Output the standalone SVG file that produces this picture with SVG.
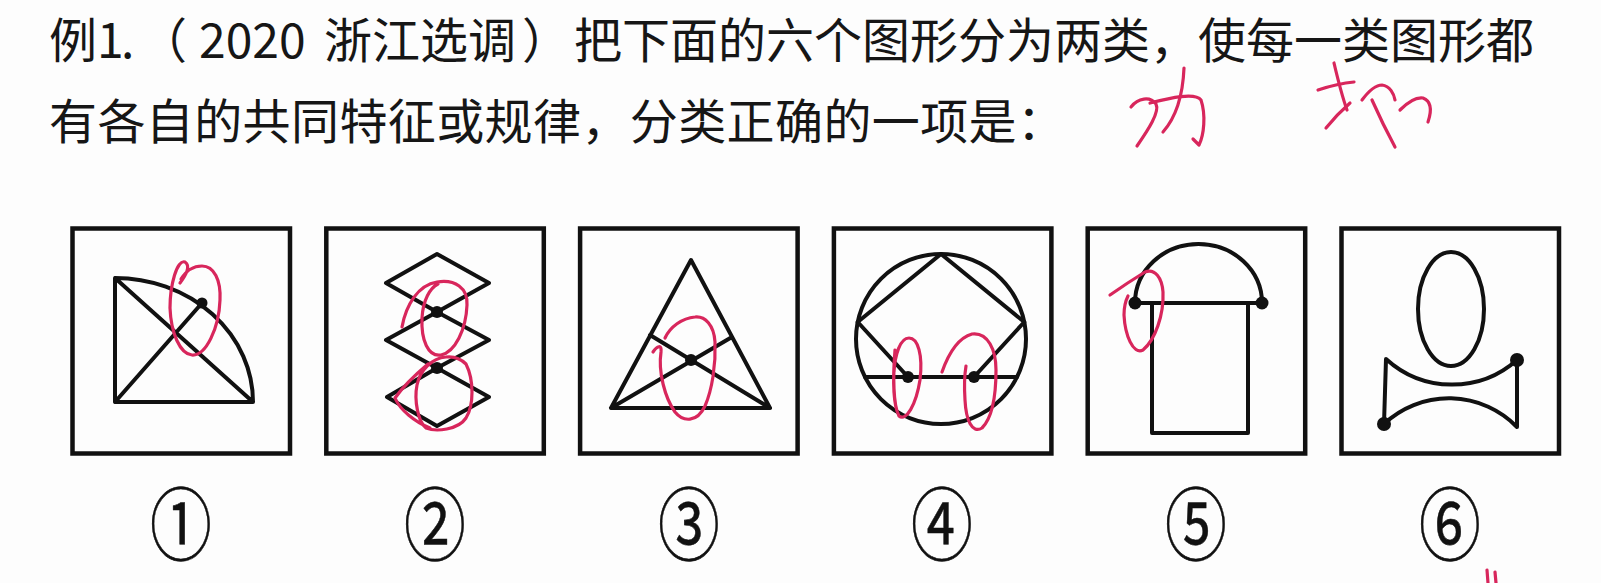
<svg xmlns="http://www.w3.org/2000/svg" width="1601" height="583" viewBox="0 0 1601 583">
<style>
.frame{fill:none;stroke:#111;stroke-width:4.5}
.fig{fill:none;stroke:#111;stroke-width:4;stroke-linejoin:round;stroke-linecap:round}
.dot{fill:#111}
.ink{fill:none;stroke:#d8265c;stroke-width:3.2;stroke-linecap:round;stroke-linejoin:round}
.q{font-family:"Noto Sans CJK SC","Noto Sans",sans-serif;font-size:48px;fill:#161616}
.num{font-family:"DejaVu Serif","Noto Sans CJK SC",serif;font-size:60px;fill:#111;stroke:#111;stroke-width:0.4;text-anchor:middle}
</style>
<rect width="1601" height="583" fill="#fdfdfd"/>
<g id="question">
<text class="q" x="49" y="58">例1</text>
<text class="q" x="121" y="58">.</text>
<text class="q" x="139" y="58">（</text>
<text class="q" x="199" y="58">2020</text>
<text class="q" x="324" y="58">浙江选调</text>
<text class="q" x="522" y="58">）</text>
<text class="q" x="574" y="58">把下面的六个图形分为两类，使每一类图形都</text>
<text class="q" x="49" y="139" letter-spacing="0.4">有各自的共同特征或规律，分类正确的一项是：</text>
</g>
<g id="handwriting">
<path class="ink" d="M1131,107 C1138,98 1150,96 1156,104 C1160,112 1148,130 1137,146"/>
<path class="ink" d="M1150,103 C1170,98 1195,92 1201,100 C1206,115 1204,135 1199,145 L1193,139"/>
<path class="ink" d="M1184,68 C1183,92 1178,115 1163,132"/>
<path class="ink" d="M1318,90 C1330,86 1342,83 1354,82"/>
<path class="ink" d="M1334,63 C1338,80 1342,96 1347,110"/>
<path class="ink" d="M1326,128 C1334,118 1342,110 1350,103"/>
<path class="ink" d="M1362,100 C1368,92 1375,85 1382,85 C1390,86 1394,94 1395,100"/>
<path class="ink" d="M1372,100 C1380,118 1388,134 1395,147"/>
<path class="ink" d="M1400,110 C1408,102 1416,97 1423,98 C1431,101 1432,110 1428,122"/>
</g>
<g id="fig1">
<rect class="frame" x="72.5" y="228.5" width="217.5" height="225"/>
<path class="fig" d="M115,278 L115,402 L253,402 A138,124 0 0 0 115,278 Z M115,278 L253,402 M115,402 L202,303"/>
<circle class="dot" cx="202" cy="303" r="5.5"/>
<path class="ink" d="M180,283 C186,275 191,266 185,262 C177,259 170,285 170,308 C171,333 180,354 192,355 C206,356 219,328 220,300 C221,280 214,266 202,266 C193,266 186,271 181,279"/>
</g>
<g id="fig2">
<rect class="frame" x="326.3" y="228.5" width="217.5" height="225"/>
<path class="fig" d="M437,254 L489,283 L437,312 L386,283 Z M437,312 L489,340 L437,368 L386,340 Z M437,368 L489,397 L437,426 L387,397 Z"/>
<circle class="dot" cx="437" cy="312" r="6"/>
<circle class="dot" cx="437" cy="368" r="6"/>
<path class="ink" d="M402,327 C406,305 418,285 437,282 C455,279 468,288 467,305 C466,330 455,352 441,355 C428,357 421,340 422,318 C423,300 430,288 438,284"/>
<path class="ink" d="M466,364 C474,380 474,405 466,418 C458,430 436,432 426,428 C418,422 414,400 417,385 C420,370 432,358 446,357 C455,356 462,360 466,364 M428,364 C415,375 402,388 395,398 C400,410 415,422 430,428"/>
</g>
<g id="fig3">
<rect class="frame" x="580.1" y="228.5" width="217.5" height="225"/>
<path class="fig" d="M691,260 L770,408 L611,408 Z M611,408 L732,337 M770,408 L650,335"/>
<circle class="dot" cx="691" cy="360" r="6"/>
<path class="ink" d="M653,352 C657,346 662,344 661,352 C658,372 665,398 675,412 C683,422 697,423 705,406 C712,390 716,365 715,342 C714,325 705,316 695,317 C682,318 670,327 665,338"/>
</g>
<g id="fig4">
<rect class="frame" x="833.9" y="228.5" width="217.5" height="225"/>
<circle class="fig" cx="941" cy="339" r="85"/>
<path class="fig" d="M857.7,322 L941,254 L1024.3,322 L974,377 M857.7,322 L908,377 M865,377 L1017,377"/>
<circle class="dot" cx="908" cy="377" r="6"/>
<circle class="dot" cx="974" cy="377" r="6"/>
<path class="ink" d="M895,350 C893,375 893,405 899,416 C906,422 916,405 920,380 C923,355 918,338 909,338 C900,338 895,355 894,372"/>
<path class="ink" d="M942,372 C948,355 958,338 972,334 C988,332 996,350 996,370 C996,395 992,418 982,428 C972,434 966,420 965,400 C964,385 965,372 966,366"/>
</g>
<g id="fig5">
<rect class="frame" x="1087.7" y="228.5" width="217.5" height="225"/>
<path class="fig" d="M1135,303 A63.5,59 0 0 1 1262,303 Z M1152,303 L1152,433 L1248,433 L1248,303"/>
<circle class="dot" cx="1135" cy="303" r="6.5"/>
<circle class="dot" cx="1262" cy="303" r="6.5"/>
<path class="ink" d="M1110,295 C1120,288 1132,280 1145,272 C1155,268 1162,278 1163,292 C1164,315 1155,340 1143,350 C1133,355 1125,335 1124,315 C1124,305 1126,300 1128,296"/>
</g>
<g id="fig6">
<rect class="frame" x="1341.5" y="228.5" width="217.5" height="225"/>
<ellipse class="fig" cx="1451" cy="309" rx="33" ry="57"/>
<path class="fig" d="M1386,359 A98,98 0 0 0 1517,360 L1517,427 A95,95 0 0 0 1384,424 Z"/>
<circle class="dot" cx="1517" cy="360" r="7"/>
<circle class="dot" cx="1384" cy="424" r="7"/>
</g>
<g id="labels">
<text class="num" transform="translate(181,527) scale(1.03,1.33)" x="0" y="20">①</text>
<text class="num" transform="translate(435,527) scale(1.03,1.33)" x="0" y="20">②</text>
<text class="num" transform="translate(689,527) scale(1.03,1.33)" x="0" y="20">③</text>
<text class="num" transform="translate(942,527) scale(1.03,1.33)" x="0" y="20">④</text>
<text class="num" transform="translate(1196,527) scale(1.03,1.33)" x="0" y="20">⑤</text>
<text class="num" transform="translate(1450,527) scale(1.03,1.33)" x="0" y="20">⑥</text>
<path class="ink" d="M1487,570 L1488,583 M1495,572 L1496,583"/>
</g>
</svg>
